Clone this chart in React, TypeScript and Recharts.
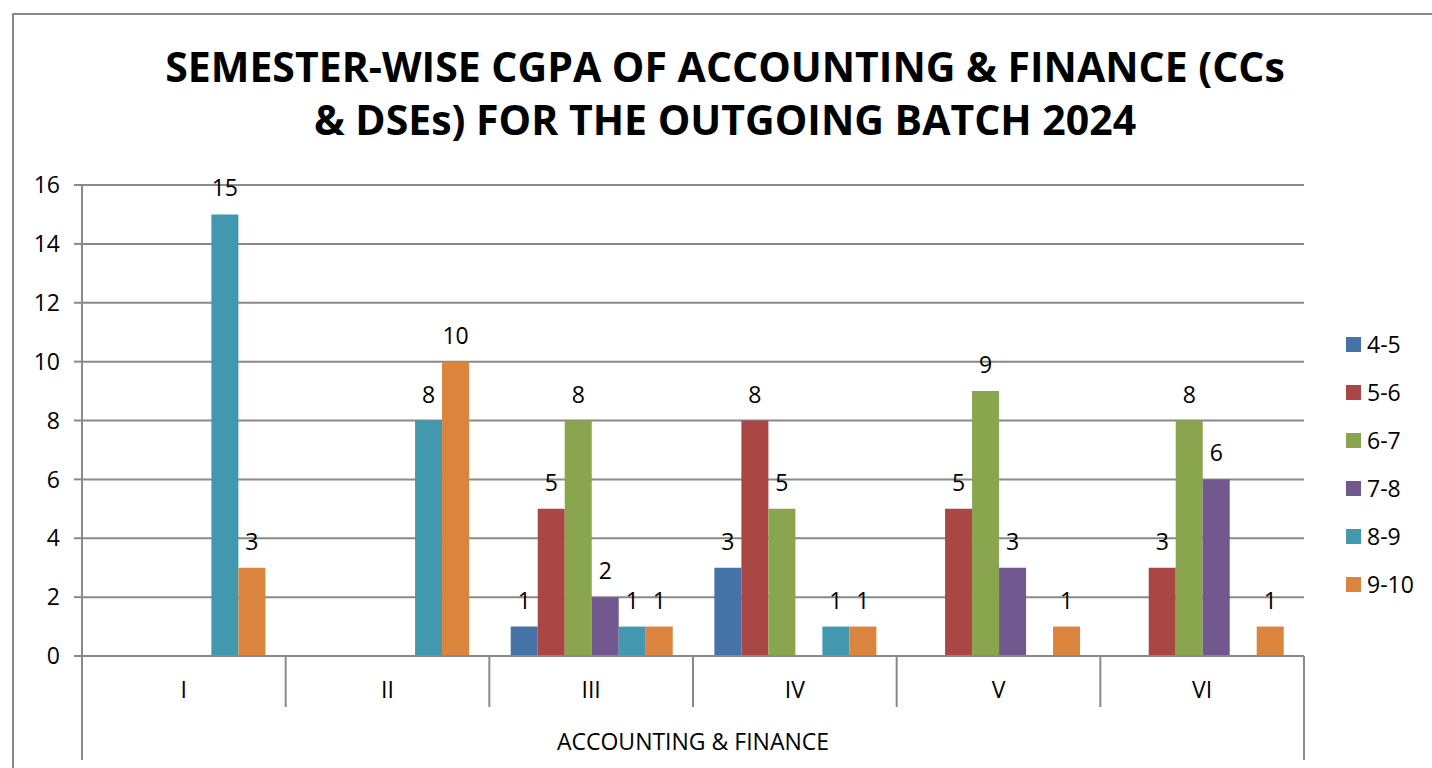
import React from 'react';
import {
  BarChart,
  Bar,
  XAxis,
  YAxis,
  CartesianGrid,
  LabelList,
  Label
} from 'recharts';

// semester categories
const semesters = ['I', 'II', 'III', 'IV', 'V', 'VI'];

// counts per CGPA band (null = no bar)
const cgpa4to5 = [null, null, 1, 3, null, null];
const cgpa5to6 = [null, null, 5, 8, 5, 3];
const cgpa6to7 = [null, null, 8, 5, 9, 8];
const cgpa7to8 = [null, null, 2, null, 3, 6];
const cgpa8to9 = [15, 8, 1, 1, null, null];
const cgpa9to10 = [3, 10, 1, 1, 1, 1];

const seriesNames = ['4-5', '5-6', '6-7', '7-8', '8-9', '9-10'];
const seriesColors = ['#4572A7', '#AA4643', '#89A54E', '#71588F', '#4198AF', '#DB843D'];
const seriesValues = [cgpa4to5, cgpa5to6, cgpa6to7, cgpa7to8, cgpa8to9, cgpa9to10];

const yTicks = [0, 2, 4, 6, 8, 10, 12, 14, 16];
const groupLabel = 'ACCOUNTING & FINANCE';
const titleLines = [
  'SEMESTER-WISE CGPA OF ACCOUNTING & FINANCE (CCs',
  '& DSEs) FOR THE OUTGOING BATCH 2024'
];

const data = semesters.map((sem, i) => {
  const row: { [key: string]: string | number | null } = { semester: sem };
  seriesNames.forEach((name, s) => {
    row[name] = seriesValues[s][i];
  });
  return row;
});

const CHART_W = 1432;
const CHART_H = 768;
const MARGIN = { top: 185, right: 128, bottom: 2, left: 0 };
const Y_AXIS_W = 82;
const X_AXIS_H = 110;
const BAND = (CHART_W - MARGIN.left - MARGIN.right - Y_AXIS_W) / semesters.length;

const FONT = '"Open Sans", sans-serif';
const FONT_SIZE = 23;
const LINE = '#898989';

const CategoryTick = (props: any) => {
  const { x, y, payload, index } = props;
  const last = index === semesters.length - 1;
  return (
    <g>
      <text
        x={x}
        y={y + 34}
        dy="0.35em"
        textAnchor="middle"
        fontSize={FONT_SIZE}
        fontFamily={FONT}
        fill="#000"
      >
        {payload.value}
      </text>
      <line
        x1={x - BAND / 2}
        x2={x - BAND / 2}
        y1={y}
        y2={y + (index === 0 ? 104 : 51)}
        stroke={LINE}
        strokeWidth={2}
      />
      {last && (
        <line
          x1={x + BAND / 2}
          x2={x + BAND / 2}
          y1={y}
          y2={y + 104}
          stroke={LINE}
          strokeWidth={2}
        />
      )}
    </g>
  );
};

const GroupLabel = (props: any) => {
  const { viewBox } = props;
  return (
    <text
      x={viewBox.x + viewBox.width / 2}
      y={viewBox.y + 86}
      dy="0.35em"
      textAnchor="middle"
      fontSize={FONT_SIZE}
      fontFamily={FONT}
      fill="#000"
    >
      {groupLabel}
    </text>
  );
};

const ChartLegend = () => (
  <div
    style={{
      position: 'absolute',
      left: 1346,
      top: 320,
      fontFamily: FONT,
      fontSize: FONT_SIZE,
      color: '#000'
    }}
  >
    {seriesNames.map((name, i) => (
      <div
        key={name}
        style={{ height: 48, display: 'flex', alignItems: 'center' }}
      >
        <span
          style={{
            width: 15,
            height: 15,
            background: seriesColors[i],
            display: 'inline-block',
            marginRight: 6
          }}
        />
        <span>{name}</span>
      </div>
    ))}
  </div>
);

export default function App() {
  return (
    <div
      style={{
        position: 'absolute',
        left: 0,
        top: 0,
        width: CHART_W,
        height: CHART_H,
        overflow: 'hidden',
        background: '#fff'
      }}
    >
      <div
        style={{
          position: 'absolute',
          left: 12,
          top: 13,
          width: CHART_W,
          height: CHART_H + 40,
          border: `2px solid ${LINE}`
        }}
      />
      <div
        style={{
          position: 'absolute',
          left: 0,
          top: 40,
          width: 1450,
          textAlign: 'center',
          fontFamily: FONT,
          fontWeight: 700,
          fontSize: 41,
          lineHeight: '53px',
          color: '#000'
        }}
      >
        {titleLines.map(line => (
          <div key={line}>{line}</div>
        ))}
      </div>
      <div style={{ position: 'absolute', left: 0, top: 0 }}>
        <BarChart
          width={CHART_W}
          height={CHART_H}
          data={data}
          margin={MARGIN}
          barCategoryGap="10.5%"
          barGap={0}
        >
          <CartesianGrid vertical={false} stroke={LINE} strokeWidth={2} />
          <YAxis
            width={Y_AXIS_W}
            domain={[0, 16]}
            ticks={yTicks}
            interval={0}
            tickSize={8}
            tickMargin={14}
            axisLine={{ stroke: LINE, strokeWidth: 2 }}
            tickLine={{ stroke: LINE, strokeWidth: 2 }}
            tick={{ fill: '#000', fontSize: FONT_SIZE, fontFamily: FONT }}
          />
          <XAxis
            dataKey="semester"
            height={X_AXIS_H}
            interval={0}
            tickSize={0}
            tickMargin={0}
            tickLine={false}
            axisLine={{ stroke: LINE, strokeWidth: 2 }}
            tick={<CategoryTick />}
          >
            <Label content={<GroupLabel />} />
          </XAxis>
          {seriesNames.map((name, i) => (
            <Bar
              key={name}
              dataKey={name}
              fill={seriesColors[i]}
              isAnimationActive={false}
            >
              <LabelList
                dataKey={name}
                position="top"
                offset={18}
                fill="#000"
                fontSize={FONT_SIZE}
                fontFamily={FONT}
              />
            </Bar>
          ))}
        </BarChart>
      </div>
      <ChartLegend />
    </div>
  );
}
